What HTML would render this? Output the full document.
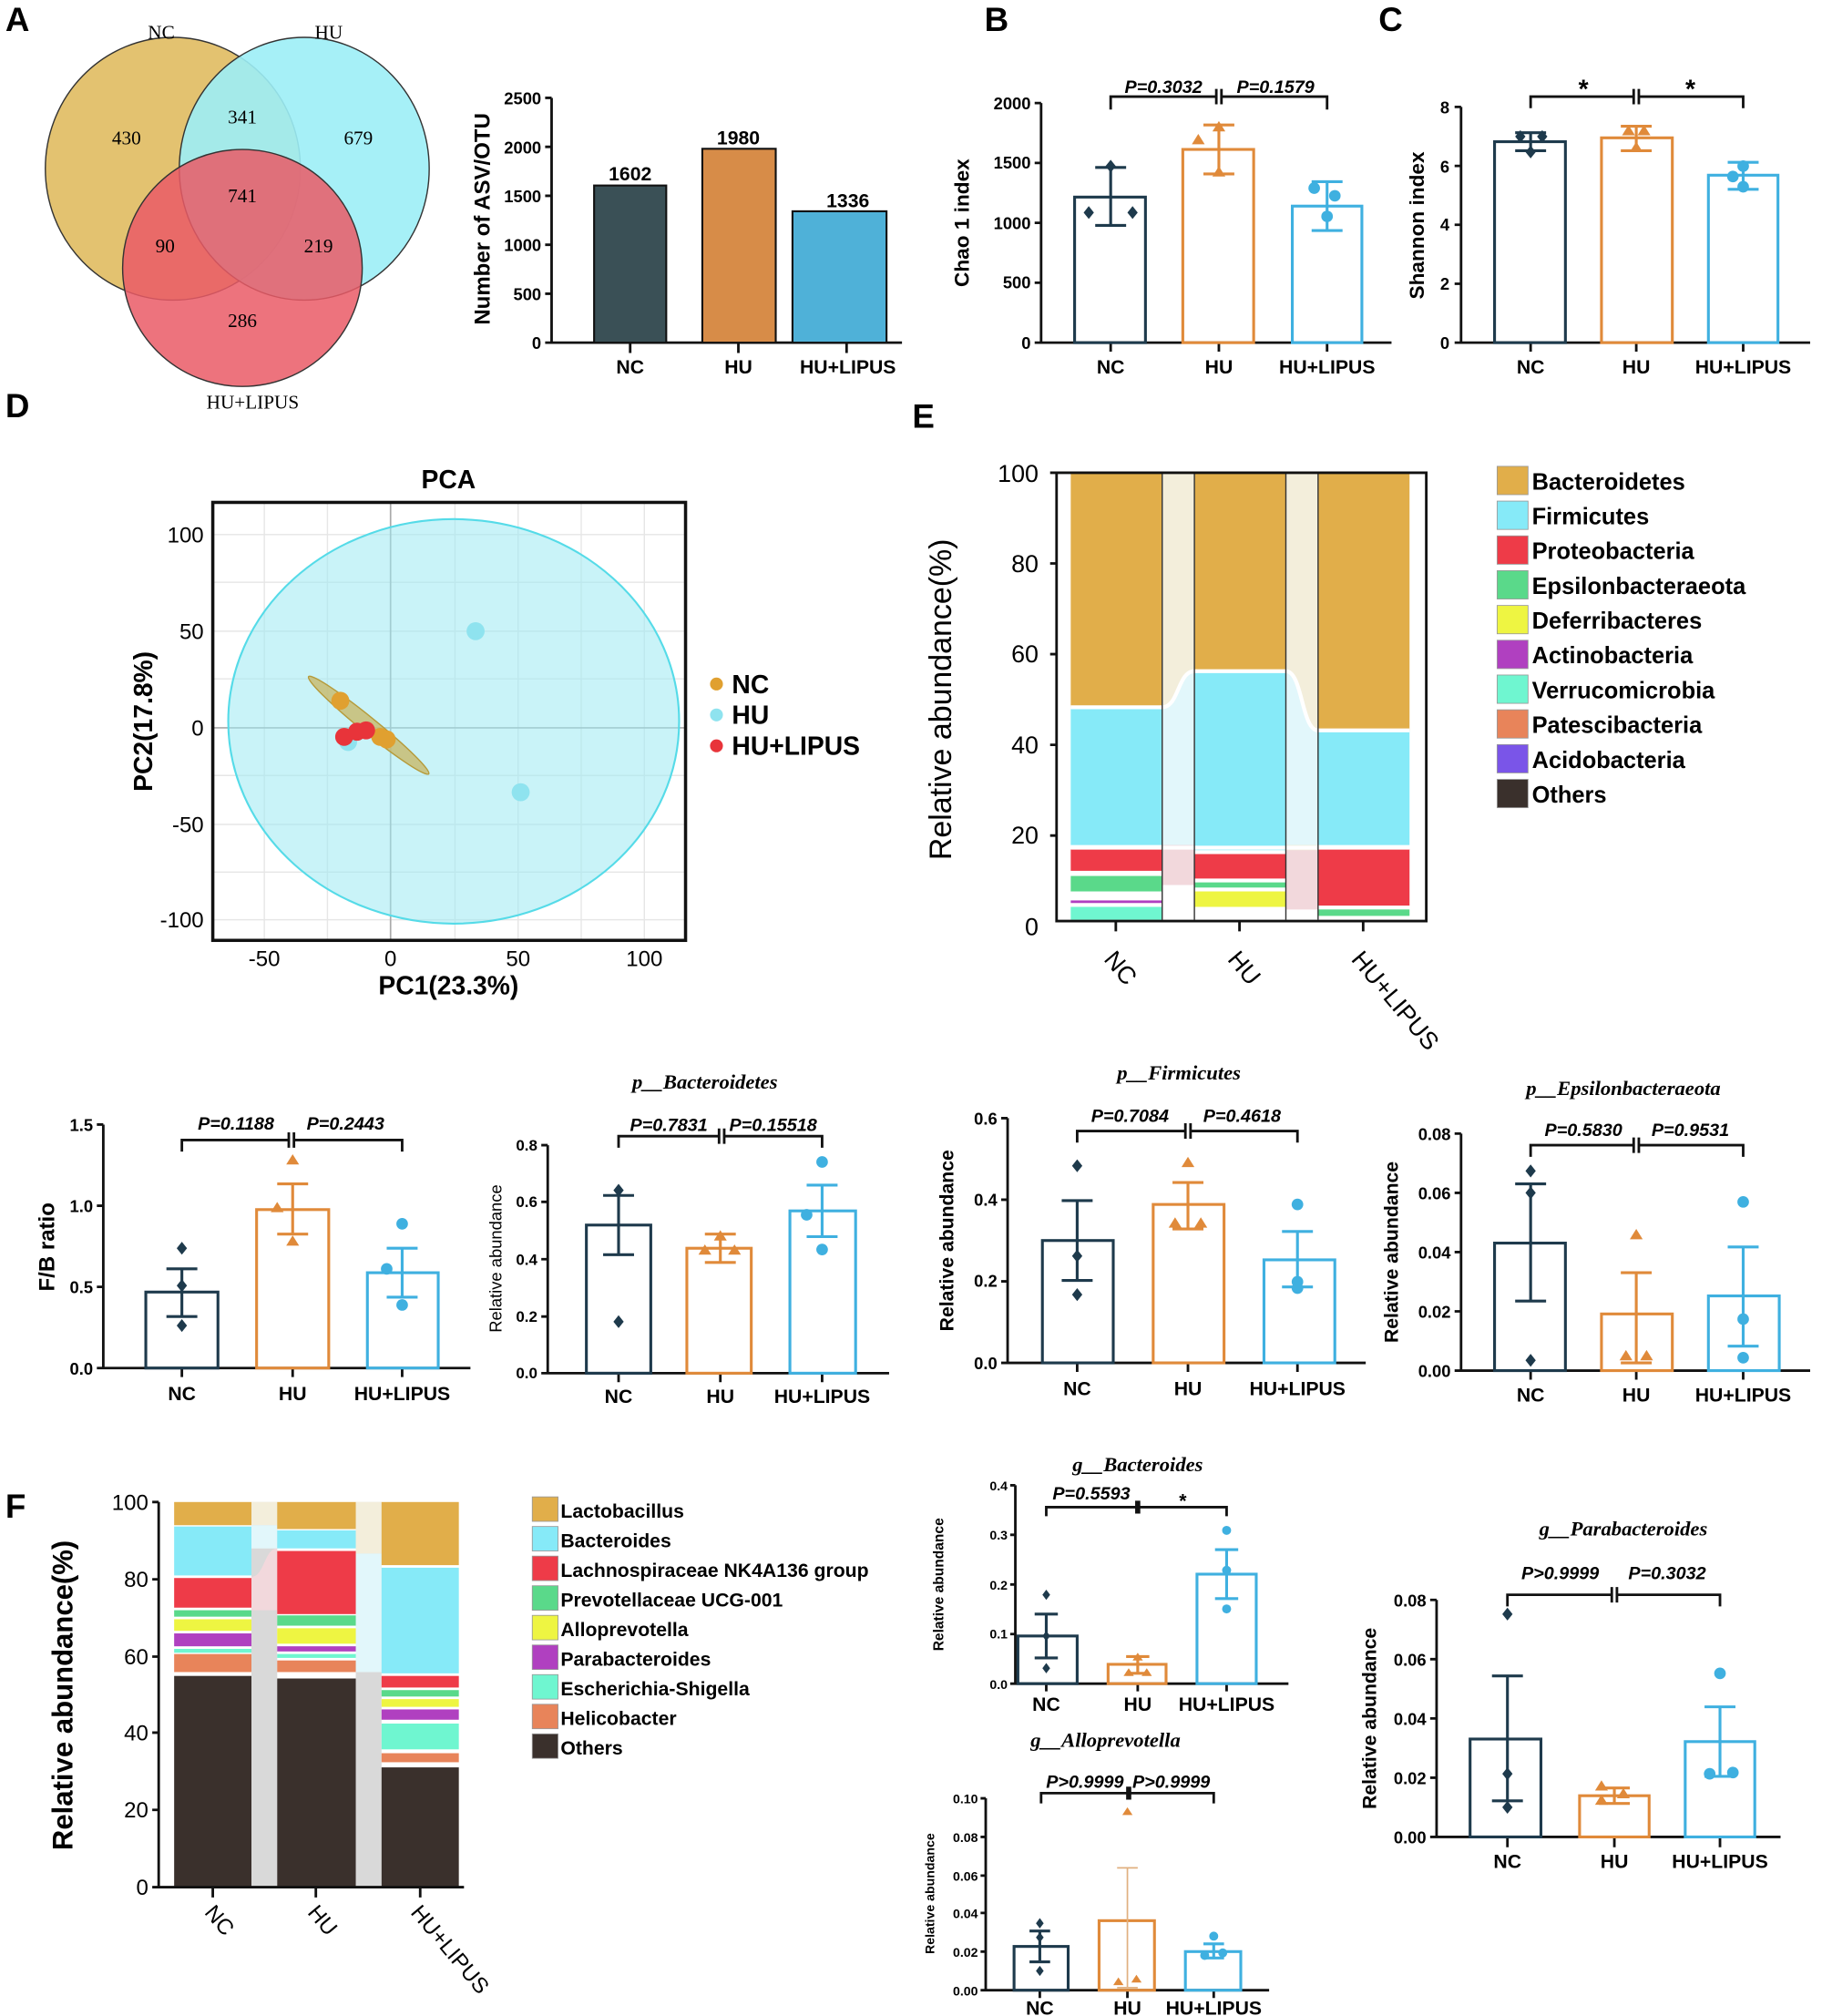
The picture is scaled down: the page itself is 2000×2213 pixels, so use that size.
<!DOCTYPE html>
<html><head><meta charset="utf-8"><style>
html,body{margin:0;padding:0;background:#fff}
svg{display:block}
text{font-family:"Liberation Sans",sans-serif}
.t{font-size:13px;font-weight:bold;text-anchor:end}
.c{font-size:15px;font-weight:bold;text-anchor:middle}
.p{font-size:14px;font-weight:bold;font-style:italic;text-anchor:middle}
.ti{font-family:"Liberation Serif",serif;font-size:16px;font-weight:bold;font-style:italic;text-anchor:middle}
.ser{font-family:"Liberation Serif",serif}
.L{font-size:26px;font-weight:bold}
.ax{stroke:#111;stroke-width:2;fill:none}
.nc{stroke:#1e3a4c;stroke-width:2.2;fill:none}
.hu{stroke:#e08a3a;stroke-width:2.2;fill:none}
.hl{stroke:#3fb0e0;stroke-width:2.2;fill:none}
.lg{font-size:18px;font-weight:bold}
</style></head><body>
<svg width="2000" height="2213" viewBox="0 0 1414 1565" xmlns="http://www.w3.org/2000/svg">
<rect width="1414" height="1565" fill="#fff"/>
<text x="4" y="24" class="L">A</text>
<text x="764" y="24" class="L">B</text>
<text x="1070" y="24" class="L">C</text>
<text x="4" y="324" class="L">D</text>
<text x="708" y="332" class="L">E</text>
<text x="4" y="1178" class="L">F</text>

<!-- Venn -->
<g stroke="#333" stroke-width="1">
<ellipse cx="134" cy="131" rx="99" ry="102" fill="#e3c270"/>
<ellipse cx="236" cy="131" rx="97" ry="102" fill="#9ceef6" fill-opacity="0.9"/>
<ellipse cx="188" cy="208" rx="93" ry="92" fill="#ea5a66" fill-opacity="0.85"/>
</g>
<g font-size="15" text-anchor="middle">
<text class="ser" x="125" y="30">NC</text><text class="ser" x="255" y="30">HU</text><text class="ser" x="196" y="317">HU+LIPUS</text>
<text class="ser" x="98" y="112">430</text><text class="ser" x="188" y="96">341</text><text class="ser" x="278" y="112">679</text>
<text class="ser" x="188" y="157">741</text><text class="ser" x="128" y="196">90</text><text class="ser" x="247" y="196">219</text><text class="ser" x="188" y="254">286</text>
</g>

<!-- A bar chart -->
<g>
<path class="ax" d="M428 76V266H700"/>
<path class="ax" d="M423 76h5M423 114h5M423 152h5M423 190h5M423 228h5M423 266h5M489 266v8M573 266v8M657 266v8"/>
<text class="t" x="420" y="81">2500</text><text class="t" x="420" y="119">2000</text><text class="t" x="420" y="157">1500</text><text class="t" x="420" y="195">1000</text><text class="t" x="420" y="233">500</text><text class="t" x="420" y="271">0</text>
<rect x="461" y="144" width="56" height="122" fill="#3a5056" stroke="#111" stroke-width="1.5"/>
<rect x="545" y="115.5" width="57" height="150.5" fill="#d78c48" stroke="#111" stroke-width="1.5"/>
<rect x="615" y="164" width="73" height="102" fill="#4fb1d8" stroke="#111" stroke-width="1.5"/>
<text class="c" x="489" y="140">1602</text><text class="c" x="573" y="112">1980</text><text class="c" x="658" y="161">1336</text>
<text class="c" x="489" y="290">NC</text><text class="c" x="573" y="290">HU</text><text class="c" x="658" y="290">HU+LIPUS</text>
<text transform="translate(380,170) rotate(-90)" font-size="17" font-weight="bold" text-anchor="middle">Number of ASV/OTU</text>
</g>

<!-- B -->
<g>
<path class="ax" d="M808 80V266H1080"/>
<path class="ax" d="M803 80h5M803 126.5h5M803 173h5M803 219.5h5M803 266h5M862 266v7M946 266v7M1030 266v7"/>
<text class="t" x="800" y="85">2000</text><text class="t" x="800" y="131">1500</text><text class="t" x="800" y="178">1000</text><text class="t" x="800" y="224">500</text><text class="t" x="800" y="271">0</text>
<rect class="nc" x="834" y="153" width="55" height="113"/><rect class="hu" x="918" y="116" width="55" height="150"/><rect class="hl" x="1003" y="160" width="54" height="106"/>
<path class="nc" d="M862 130V175M850 130h24M850 175h24"/><path class="hu" d="M946 97V135M934 97h24M934 135h24"/><path class="hl" d="M1030 141V179M1018 141h24M1018 179h24"/>
<g fill="#1e3a4c"><path d="M845 160l4 5-4 5-4-5z"/><path d="M862 124l4 5-4 5-4-5z"/><path d="M879 160l4 5-4 5-4-5z"/></g>
<g fill="#e08a3a"><path d="M946 94l5 8h-10z"/><path d="M930 104l5 8h-10z"/><path d="M946 129l5 8h-10z"/></g>
<g fill="#3fb0e0"><circle cx="1020" cy="146" r="4.5"/><circle cx="1036" cy="152" r="4.5"/><circle cx="1030" cy="168" r="4.5"/></g>
<path class="ax" d="M862 85V75H944M948 75H1030V85M944 69v12M948 69v12"/>
<text class="p" x="903" y="72">P=0.3032</text><text class="p" x="990" y="72">P=0.1579</text>
<text class="c" x="862" y="290">NC</text><text class="c" x="946" y="290">HU</text><text class="c" x="1030" y="290">HU+LIPUS</text>
<text transform="translate(752,173) rotate(-90)" font-size="16" font-weight="bold" text-anchor="middle">Chao 1  index</text>
</g>

<!-- C -->
<g>
<path class="ax" d="M1134 83V266H1405"/>
<path class="ax" d="M1129 83h5M1129 128.8h5M1129 174.5h5M1129 220.3h5M1129 266h5M1188 266v7M1270 266v7M1353 266v7"/>
<text class="t" x="1125" y="88">8</text><text class="t" x="1125" y="134">6</text><text class="t" x="1125" y="179">4</text><text class="t" x="1125" y="225">2</text><text class="t" x="1125" y="271">0</text>
<rect class="nc" x="1160" y="110" width="55" height="156"/><rect class="hu" x="1243" y="107" width="55" height="159"/><rect class="hl" x="1326" y="136" width="54" height="130"/>
<path class="nc" d="M1188 103V117M1176 103h24M1176 117h24"/><path class="hu" d="M1270 98V117M1258 98h24M1258 117h24"/><path class="hl" d="M1353 126V147M1341 126h24M1341 147h24"/>
<g fill="#1e3a4c"><path d="M1180 101l4 5-4 5-4-5z"/><path d="M1197 101l4 5-4 5-4-5z"/><path d="M1188 113l4 5-4 5-4-5z"/></g>
<g fill="#e08a3a"><path d="M1264 97l5 8h-10z"/><path d="M1276 97l5 8h-10z"/><path d="M1270 110l5 8h-10z"/></g>
<g fill="#3fb0e0"><circle cx="1353" cy="129" r="4.5"/><circle cx="1345" cy="137" r="4.5"/><circle cx="1353" cy="145" r="4.5"/></g>
<path class="ax" d="M1188 84V75H1268M1272 75H1353V84M1268 69v12M1272 69v12"/>
<text x="1229" y="76" font-size="20" font-weight="bold" text-anchor="middle">*</text><text x="1312" y="76" font-size="20" font-weight="bold" text-anchor="middle">*</text>
<text class="c" x="1188" y="290">NC</text><text class="c" x="1270" y="290">HU</text><text class="c" x="1353" y="290">HU+LIPUS</text>
<text transform="translate(1105,175) rotate(-90)" font-size="16" font-weight="bold" text-anchor="middle">Shannon  index</text>
</g>

<!-- D PCA -->
<g>
<text x="348" y="379" font-size="20" font-weight="bold" text-anchor="middle">PCA</text>
<g stroke="#e6e6e6" stroke-width="1">
<path d="M205 390V730M254 390V730M353 390V730M402 390V730M451 390V730M500 390V730"/>
<path d="M165 415H532M165 452H532M165 490H532M165 527H532M165 602H532M165 640H532M165 677H532M165 714H532"/>
</g>
<path d="M303 390V730M165 565H532" stroke="#aaa" stroke-width="1.2"/>
<ellipse cx="352" cy="560" rx="175" ry="157" fill="#9deaf2" fill-opacity="0.55" stroke="#55dbe8" stroke-width="1.5"/>
<ellipse cx="286" cy="563" rx="60" ry="6" transform="rotate(39 286 563)" fill="#c8b96a" fill-opacity="0.8" stroke="#b59a3a"/>
<g fill="#8fe3ef"><circle cx="369" cy="490" r="7"/><circle cx="404" cy="615" r="7"/><circle cx="270" cy="576" r="7"/></g>
<g fill="#e0a030"><circle cx="264" cy="544" r="7"/><circle cx="295" cy="572" r="7"/><circle cx="300" cy="574" r="7"/></g>
<g fill="#e8343a"><circle cx="267" cy="572" r="7"/><circle cx="277" cy="568" r="7"/><circle cx="284" cy="567" r="7"/></g>
<rect x="165" y="390" width="367" height="340" fill="none" stroke="#111" stroke-width="2.5"/>
<g font-size="17" text-anchor="end"><text x="158" y="421">100</text><text x="158" y="496">50</text><text x="158" y="571">0</text><text x="158" y="646">-50</text><text x="158" y="720">-100</text></g>
<g font-size="17" text-anchor="middle"><text x="205" y="750">-50</text><text x="303" y="750">0</text><text x="402" y="750">50</text><text x="500" y="750">100</text></g>
<text x="348" y="772" font-size="20" font-weight="bold" text-anchor="middle">PC1(23.3%)</text>
<text transform="translate(118,560) rotate(-90)" font-size="20" font-weight="bold" text-anchor="middle">PC2(17.8%)</text>
<circle cx="556" cy="531" r="5" fill="#e0a030"/><circle cx="556" cy="555" r="5" fill="#8fe3ef"/><circle cx="556" cy="579" r="5" fill="#e8343a"/>
<g font-size="20" font-weight="bold"><text x="568" y="538">NC</text><text x="568" y="562">HU</text><text x="568" y="586">HU+LIPUS</text></g>
</g>

<!-- E stacked -->
<g>
<rect x="902" y="367" width="25" height="348" fill="#f3eedb"/><rect x="998" y="367" width="25" height="348" fill="#f3eedb"/>
<path d="M902 549C915 549 914 521 927 521V660H902Z" fill="#e2f7fb"/>
<path d="M998 521C1011 521 1010 567 1023 567V656H998Z" fill="#e2f7fb"/>
<path d="M902 656H927V714H902Z" fill="#f2d8dc"/><path d="M998 660H1023V714H998Z" fill="#f2d8dc"/>
<path d="M902 687H927V715H902Z" fill="#fff"/><path d="M998 706H1023V715H998Z" fill="#fff"/>
<rect x="831" y="367" width="71" height="182" fill="#e1ae4a"/><rect x="831" y="549" width="71" height="107" fill="#86eaf8"/>
<rect x="831" y="659" width="71" height="17" fill="#ee3b48"/><rect x="831" y="680" width="71" height="12" fill="#5ad98a"/>
<rect x="831" y="699" width="71" height="2" fill="#b040c0"/><rect x="831" y="704" width="71" height="10" fill="#6ff6d0"/>
<rect x="927" y="367" width="71" height="154" fill="#e1ae4a"/><rect x="927" y="521" width="71" height="139" fill="#86eaf8"/>
<rect x="927" y="663" width="71" height="19" fill="#ee3b48"/><rect x="927" y="685" width="71" height="4" fill="#5ad98a"/>
<rect x="927" y="692" width="71" height="12" fill="#eef542"/>
<rect x="1023" y="367" width="71" height="200" fill="#e1ae4a"/><rect x="1023" y="567" width="71" height="89" fill="#86eaf8"/>
<rect x="1023" y="659" width="71" height="44" fill="#ee3b48"/><rect x="1023" y="706" width="71" height="5" fill="#5ad98a"/>
<g stroke="#fff" stroke-width="3" fill="none"><path d="M831 549H902C915 549 914 521 927 521H998C1011 521 1010 567 1023 567H1094"/><path d="M831 658H1094"/></g>
<g stroke="#333" stroke-width="1"><path d="M902 367V714M927 367V714M998 367V714M1023 367V714"/></g>
<path class="ax" d="M820 367V715H1107V367H820M815 367h5M815 437.4h5M815 507.8h5M815 578.2h5M815 648.6h5M866 715v8M962 715v8M1058 715v8"/>
<g font-size="19" text-anchor="end"><text x="806" y="374">100</text><text x="806" y="444">80</text><text x="806" y="514">60</text><text x="806" y="585">40</text><text x="806" y="655">20</text><text x="806" y="726">0</text></g>
<g font-size="19"><text transform="translate(856,745) rotate(50)">NC</text><text transform="translate(952,745) rotate(50)">HU</text><text transform="translate(1048,745) rotate(50)">HU+LIPUS</text></g>
<text transform="translate(738,543) rotate(-90)" font-size="24" text-anchor="middle">Relative abundance(%)</text>
<g stroke="#999" stroke-width="0.6">
<rect x="1162" y="362" width="24" height="22" fill="#e1ae4a"/><rect x="1162" y="389" width="24" height="22" fill="#86eaf8"/><rect x="1162" y="416" width="24" height="22" fill="#ee3b48"/><rect x="1162" y="443" width="24" height="22" fill="#5ad98a"/><rect x="1162" y="470" width="24" height="22" fill="#eef542"/><rect x="1162" y="497" width="24" height="22" fill="#b040c0"/><rect x="1162" y="524" width="24" height="22" fill="#6ff6d0"/><rect x="1162" y="551" width="24" height="22" fill="#e8845a"/><rect x="1162" y="578" width="24" height="22" fill="#7a55e8"/><rect x="1162" y="605" width="24" height="22" fill="#3a302c"/>
</g>
<g class="lg"><text x="1189" y="380">Bacteroidetes</text><text x="1189" y="407">Firmicutes</text><text x="1189" y="434">Proteobacteria</text><text x="1189" y="461">Epsilonbacteraeota</text><text x="1189" y="488">Deferribacteres</text><text x="1189" y="515">Actinobacteria</text><text x="1189" y="542">Verrucomicrobia</text><text x="1189" y="569">Patescibacteria</text><text x="1189" y="596">Acidobacteria</text><text x="1189" y="623">Others</text></g>
</g>

<!-- F/B -->
<g>
<path class="ax" d="M80 873V1062H365M75 873h5M75 936h5M75 999h5M75 1062h5M141 1062v7M227 1062v7M312 1062v7"/>
<text class="t" x="72" y="878">1.5</text><text class="t" x="72" y="941">1.0</text><text class="t" x="72" y="1004">0.5</text><text class="t" x="72" y="1067">0.0</text>
<rect class="nc" x="113" y="1003" width="56" height="59"/><rect class="hu" x="199" y="939" width="56" height="123"/><rect class="hl" x="285" y="988" width="55" height="74"/>
<path class="nc" d="M141 985V1022M129 985h24M129 1022h24"/><path class="hu" d="M227 919V958M215 919h24M215 958h24"/><path class="hl" d="M312 969V1007M300 969h24M300 1007h24"/>
<g fill="#1e3a4c"><path d="M141 964l4 5-4 5-4-5z"/><path d="M141 993l4 5-4 5-4-5z"/><path d="M141 1024l4 5-4 5-4-5z"/></g>
<g fill="#e08a3a"><path d="M227 896l5 8h-10z"/><path d="M215 933l5 8h-10z"/><path d="M227 959l5 8h-10z"/></g>
<g fill="#3fb0e0"><circle cx="312" cy="950" r="4.5"/><circle cx="300" cy="985" r="4.5"/><circle cx="312" cy="1013" r="4.5"/></g>
<path class="ax" d="M141 894V885H224M228 885H312V894M224 879v12M228 879v12"/>
<text class="p" x="183" y="877">P=0.1188</text><text class="p" x="268" y="877">P=0.2443</text>
<text class="c" x="141" y="1087">NC</text><text class="c" x="227" y="1087">HU</text><text class="c" x="312" y="1087">HU+LIPUS</text>
<text transform="translate(42,968) rotate(-90)" font-size="17" font-weight="bold" text-anchor="middle">F/B ratio</text>
</g>

<!-- p_Bacteroidetes -->
<g>
<text class="ti" x="547" y="845">p__Bacteroidetes</text>
<path class="ax" d="M425 889V1066H690M420 889h5M420 933h5M420 977.5h5M420 1022h5M420 1066h5M480 1066v7M559 1066v7M638 1066v7"/>
<g font-size="12" font-weight="bold" text-anchor="end"><text x="417" y="893">0.8</text><text x="417" y="937">0.6</text><text x="417" y="982">0.4</text><text x="417" y="1026">0.2</text><text x="417" y="1070">0.0</text></g>
<rect class="nc" x="455" y="951" width="50" height="115"/><rect class="hu" x="533" y="969" width="50" height="97"/><rect class="hl" x="613" y="940" width="51" height="126"/>
<path class="nc" d="M480 928V974M468 928h24M468 974h24"/><path class="hu" d="M559 958V980M547 958h24M547 980h24"/><path class="hl" d="M638 920V960M626 920h24M626 960h24"/>
<g fill="#1e3a4c"><path d="M480 919l4 5-4 5-4-5z"/><path d="M480 1021l4 5-4 5-4-5z"/></g>
<g fill="#e08a3a"><path d="M559 955l5 8h-10z"/><path d="M547 966l5 8h-10z"/><path d="M570 966l5 8h-10z"/></g>
<g fill="#3fb0e0"><circle cx="638" cy="902" r="4.5"/><circle cx="626" cy="943" r="4.5"/><circle cx="638" cy="970" r="4.5"/></g>
<path class="ax" d="M480 891V882H558M562 882H638V891M558 876v12M562 876v12"/>
<text class="p" x="519" y="878" font-size="13">P=0.7831</text><text class="p" x="600" y="878" font-size="13">P=0.15518</text>
<text class="c" x="480" y="1089" font-size="13">NC</text><text class="c" x="559" y="1089" font-size="13">HU</text><text class="c" x="638" y="1089" font-size="13">HU+LIPUS</text>
<text transform="translate(389,977) rotate(-90)" font-size="13" text-anchor="middle">Relative abundance</text>
</g>

<!-- p_Firmicutes -->
<g>
<text class="ti" x="915" y="838">p__Firmicutes</text>
<path class="ax" d="M782 868V1058H1060M777 868h5M777 931.3h5M777 994.7h5M777 1058h5M836 1058v7M922 1058v7M1007 1058v7"/>
<text class="t" x="774" y="873">0.6</text><text class="t" x="774" y="936">0.4</text><text class="t" x="774" y="999">0.2</text><text class="t" x="774" y="1063">0.0</text>
<rect class="nc" x="809" y="963" width="55" height="95"/><rect class="hu" x="895" y="935" width="55" height="123"/><rect class="hl" x="981" y="978" width="55" height="80"/>
<path class="nc" d="M836 932V994M824 932h24M824 994h24"/><path class="hu" d="M922 918V954M910 918h24M910 954h24"/><path class="hl" d="M1007 956V999M995 956h24M995 999h24"/>
<g fill="#1e3a4c"><path d="M836 900l4 5-4 5-4-5z"/><path d="M836 970l4 5-4 5-4-5z"/><path d="M836 1000l4 5-4 5-4-5z"/></g>
<g fill="#e08a3a"><path d="M922 898l5 8h-10z"/><path d="M912 945l5 8h-10z"/><path d="M932 945l5 8h-10z"/></g>
<g fill="#3fb0e0"><circle cx="1007" cy="935" r="4.5"/><circle cx="1007" cy="995" r="4.5"/><circle cx="1007" cy="1000" r="4.5"/></g>
<path class="ax" d="M836 887V878H920M924 878H1007V887M920 872v12M924 872v12"/>
<text class="p" x="877" y="871">P=0.7084</text><text class="p" x="964" y="871">P=0.4618</text>
<text class="c" x="836" y="1083">NC</text><text class="c" x="922" y="1083">HU</text><text class="c" x="1007" y="1083">HU+LIPUS</text>
<text transform="translate(740,963) rotate(-90)" font-size="15" font-weight="bold" text-anchor="middle">Relative abundance</text>
</g>

<!-- p_Epsilon -->
<g>
<text class="ti" x="1260" y="850">p__Epsilonbacteraeota</text>
<path class="ax" d="M1134 880V1064H1405M1129 880h5M1129 926h5M1129 972h5M1129 1018h5M1129 1064h5M1188 1064v7M1270 1064v7M1353 1064v7"/>
<text class="t" x="1126" y="885">0.08</text><text class="t" x="1126" y="931">0.06</text><text class="t" x="1126" y="977">0.04</text><text class="t" x="1126" y="1023">0.02</text><text class="t" x="1126" y="1069">0.00</text>
<rect class="nc" x="1160" y="965" width="55" height="99"/><rect class="hu" x="1243" y="1020" width="55" height="44"/><rect class="hl" x="1326" y="1006" width="55" height="58"/>
<path class="nc" d="M1188 919V1010M1176 919h24M1176 1010h24"/><path class="hu" d="M1270 988V1058M1258 988h24M1258 1058h24"/><path class="hl" d="M1353 968V1045M1341 968h24M1341 1045h24"/>
<g fill="#1e3a4c"><path d="M1188 904l4 5-4 5-4-5z"/><path d="M1188 921l4 5-4 5-4-5z"/><path d="M1188 1051l4 5-4 5-4-5z"/></g>
<g fill="#e08a3a"><path d="M1270 954l5 8h-10z"/><path d="M1262 1048l5 8h-10z"/><path d="M1278 1048l5 8h-10z"/></g>
<g fill="#3fb0e0"><circle cx="1353" cy="933" r="4.5"/><circle cx="1353" cy="1024" r="4.5"/><circle cx="1353" cy="1054" r="4.5"/></g>
<path class="ax" d="M1188 898V889H1268M1272 889H1353V898M1268 883v12M1272 883v12"/>
<text class="p" x="1229" y="882">P=0.5830</text><text class="p" x="1312" y="882">P=0.9531</text>
<text class="c" x="1188" y="1088">NC</text><text class="c" x="1270" y="1088">HU</text><text class="c" x="1353" y="1088">HU+LIPUS</text>
<text transform="translate(1085,972) rotate(-90)" font-size="15" font-weight="bold" text-anchor="middle">Relative abundance</text>
</g>

<!-- F stacked -->
<g>
<rect x="195" y="1166" width="20" height="299" fill="#d9d9d9"/><rect x="276" y="1166" width="20" height="299" fill="#d9d9d9"/>
<rect x="195" y="1166" width="20" height="18" fill="#f3eedb"/><rect x="276" y="1166" width="20" height="40" fill="#f3eedb"/>
<path d="M195 1184H215V1202H195Z" fill="#e2f7fb"/><path d="M276 1206H296V1298H276Z" fill="#e2f7fb"/>
<path d="M195 1224C205 1224 205 1202 215 1202V1250H195Z" fill="#f2d8dc"/>
<rect x="135" y="1166" width="60" height="18" fill="#e1ae4a"/><rect x="135" y="1185" width="60" height="38" fill="#86eaf8"/><rect x="135" y="1225" width="60" height="23" fill="#ee3b48"/><rect x="135" y="1250" width="60" height="5" fill="#5ad98a"/><rect x="135" y="1257" width="60" height="9" fill="#eef542"/><rect x="135" y="1268" width="60" height="10" fill="#b040c0"/><rect x="135" y="1280" width="60" height="3" fill="#6ff6d0"/><rect x="135" y="1284" width="60" height="14" fill="#e8845a"/><rect x="135" y="1301" width="60" height="164" fill="#3a302c"/>
<rect x="215" y="1166" width="61" height="21" fill="#e1ae4a"/><rect x="215" y="1188" width="61" height="14" fill="#86eaf8"/><rect x="215" y="1204" width="61" height="49" fill="#ee3b48"/><rect x="215" y="1254" width="61" height="8" fill="#5ad98a"/><rect x="215" y="1264" width="61" height="12" fill="#eef542"/><rect x="215" y="1278" width="61" height="4" fill="#b040c0"/><rect x="215" y="1284" width="61" height="3" fill="#6ff6d0"/><rect x="215" y="1289" width="61" height="9" fill="#e8845a"/><rect x="215" y="1303" width="61" height="162" fill="#3a302c"/>
<rect x="296" y="1166" width="60" height="49" fill="#e1ae4a"/><rect x="296" y="1217" width="60" height="82" fill="#86eaf8"/><rect x="296" y="1301" width="60" height="9" fill="#ee3b48"/><rect x="296" y="1312" width="60" height="5" fill="#5ad98a"/><rect x="296" y="1319" width="60" height="6" fill="#eef542"/><rect x="296" y="1327" width="60" height="8" fill="#b040c0"/><rect x="296" y="1338" width="60" height="20" fill="#6ff6d0"/><rect x="296" y="1361" width="60" height="7" fill="#e8845a"/><rect x="296" y="1372" width="60" height="93" fill="#3a302c"/>
<path class="ax" d="M123 1166V1465H360M118 1166h5M118 1226h5M118 1286h5M118 1345h5M118 1405h5M118 1465h5M165 1465v8M245 1465v8M326 1465v8"/>
<g font-size="17" text-anchor="end"><text x="115" y="1172">100</text><text x="115" y="1232">80</text><text x="115" y="1292">60</text><text x="115" y="1351">40</text><text x="115" y="1411">20</text><text x="115" y="1471">0</text></g>
<g font-size="17"><text transform="translate(158,1485) rotate(50)">NC</text><text transform="translate(238,1485) rotate(50)">HU</text><text transform="translate(318,1485) rotate(50)">HU+LIPUS</text></g>
<text transform="translate(56,1316) rotate(-90)" font-size="22" font-weight="bold" text-anchor="middle">Relative abundance(%)</text>
<g stroke="#999" stroke-width="0.6">
<rect x="413" y="1162" width="20" height="19" fill="#e1ae4a"/><rect x="413" y="1185" width="20" height="19" fill="#86eaf8"/><rect x="413" y="1208" width="20" height="19" fill="#ee3b48"/><rect x="413" y="1231" width="20" height="19" fill="#5ad98a"/><rect x="413" y="1254" width="20" height="19" fill="#eef542"/><rect x="413" y="1277" width="20" height="19" fill="#b040c0"/><rect x="413" y="1300" width="20" height="19" fill="#6ff6d0"/><rect x="413" y="1323" width="20" height="19" fill="#e8845a"/><rect x="413" y="1346" width="20" height="19" fill="#3a302c"/>
</g>
<g font-size="15" font-weight="bold"><text x="435" y="1178">Lactobacillus</text><text x="435" y="1201">Bacteroides</text><text x="435" y="1224">Lachnospiraceae NK4A136 group</text><text x="435" y="1247">Prevotellaceae UCG-001</text><text x="435" y="1270">Alloprevotella</text><text x="435" y="1293">Parabacteroides</text><text x="435" y="1316">Escherichia-Shigella</text><text x="435" y="1339">Helicobacter</text><text x="435" y="1362">Others</text></g>
</g>

<!-- g_Bacteroides -->
<g>
<text class="ti" x="883" y="1142" font-size="13">g__Bacteroides</text>
<path class="ax" d="M788 1153V1307H1000M784 1153h4M784 1191.5h4M784 1230h4M784 1268.5h4M784 1307h4M812 1307v6M883 1307v6M952 1307v6" stroke-width="1.5"/>
<g font-size="10" font-weight="bold" text-anchor="end"><text x="782" y="1157">0.4</text><text x="782" y="1195">0.3</text><text x="782" y="1234">0.2</text><text x="782" y="1272">0.1</text><text x="782" y="1311">0.0</text></g>
<rect class="nc" x="790" y="1270" width="46" height="37" stroke-width="1.6"/><rect class="hu" x="860" y="1292" width="45" height="15" stroke-width="1.6"/><rect class="hl" x="929" y="1222" width="46" height="85" stroke-width="1.6"/>
<path class="nc" d="M812 1253V1287M803 1253h18M803 1287h18" stroke-width="1.4"/><path class="hu" d="M883 1286V1299M874 1286h18M874 1299h18" stroke-width="1.4"/><path class="hl" d="M952 1203V1241M943 1203h18M943 1241h18" stroke-width="1.4"/>
<g fill="#1e3a4c"><path d="M812 1234l3 4-3 4-3-4z"/><path d="M812 1266l3 4-3 4-3-4z"/><path d="M812 1291l3 4-3 4-3-4z"/></g>
<g fill="#e08a3a"><path d="M883 1283l4 6h-8z"/><path d="M876 1295l4 6h-8z"/><path d="M890 1295l4 6h-8z"/></g>
<g fill="#3fb0e0"><circle cx="952" cy="1188" r="3.5"/><circle cx="952" cy="1219" r="3.5"/><circle cx="952" cy="1249" r="3.5"/></g>
<path class="ax" d="M812 1177V1170H882M884 1170H952V1177M882 1165v10M884 1165v10" stroke-width="1.5"/>
<text class="p" x="847" y="1164" font-size="11">P=0.5593</text><text x="918" y="1170" font-size="15" font-weight="bold" text-anchor="middle">*</text>
<text class="c" x="812" y="1328" font-size="12">NC</text><text class="c" x="883" y="1328" font-size="12">HU</text><text class="c" x="952" y="1328" font-size="12">HU+LIPUS</text>
<text transform="translate(732,1230) rotate(-90)" font-size="11" font-weight="bold" text-anchor="middle">Relative abundance</text>
</g>

<!-- g_Alloprevotella -->
<g>
<text class="ti" x="858" y="1356" font-size="13">g__Alloprevotella</text>
<path class="ax" d="M765 1396V1545H985M761 1396h4M761 1426h4M761 1456h4M761 1485h4M761 1515h4M761 1545h4M807 1545v6M875 1545v6M942 1545v6" stroke-width="1.5"/>
<g font-size="10" font-weight="bold" text-anchor="end"><text x="759" y="1400">0.10</text><text x="759" y="1430">0.08</text><text x="759" y="1460">0.06</text><text x="759" y="1489">0.04</text><text x="759" y="1519">0.02</text><text x="759" y="1549">0.00</text></g>
<rect class="nc" x="787" y="1511" width="42" height="34" stroke-width="1.6"/><rect class="hu" x="853" y="1491" width="43" height="54" stroke-width="1.6"/><rect class="hl" x="920" y="1515" width="43" height="30" stroke-width="1.6"/>
<path class="nc" d="M807 1499V1523M799 1499h16M799 1523h16" stroke-width="1.4"/><path d="M875 1450V1543M867 1450h16M867 1543h16" stroke="#e0b080" stroke-width="1.2"/><path class="hl" d="M942 1509V1520M934 1509h16M934 1520h16" stroke-width="1.4"/>
<g fill="#1e3a4c"><path d="M807 1489l3 4-3 4-3-4z"/><path d="M807 1500l3 4-3 4-3-4z"/><path d="M807 1526l3 4-3 4-3-4z"/></g>
<g fill="#e08a3a"><path d="M875 1403l4 6h-8z"/><path d="M868 1535l4 6h-8z"/><path d="M882 1533l4 6h-8z"/></g>
<g fill="#3fb0e0"><circle cx="942" cy="1503" r="3.5"/><circle cx="935" cy="1518" r="3.5"/><circle cx="949" cy="1516" r="3.5"/></g>
<path class="ax" d="M808 1400V1392H875M877 1392H942V1400M875 1387v10M877 1387v10" stroke-width="1.5"/>
<text class="p" x="842" y="1388" font-size="11">P&gt;0.9999</text><text class="p" x="909" y="1388" font-size="11">P&gt;0.9999</text>
<text class="c" x="807" y="1564" font-size="12">NC</text><text class="c" x="875" y="1564" font-size="12">HU</text><text class="c" x="942" y="1564" font-size="12">HU+LIPUS</text>
<text transform="translate(725,1470) rotate(-90)" font-size="10" font-weight="bold" text-anchor="middle">Relative abundance</text>
</g>

<!-- g_Parabacteroides -->
<g>
<text class="ti" x="1260" y="1192" font-size="17">g__Parabacteroides</text>
<path class="ax" d="M1115 1242V1426H1382M1110 1242h5M1110 1288h5M1110 1334h5M1110 1380h5M1110 1426h5M1170 1426v8M1253 1426v8M1335 1426v8"/>
<text class="t" x="1107" y="1247">0.08</text><text class="t" x="1107" y="1293">0.06</text><text class="t" x="1107" y="1339">0.04</text><text class="t" x="1107" y="1385">0.02</text><text class="t" x="1107" y="1431">0.00</text>
<rect class="nc" x="1141" y="1350" width="55" height="76"/><rect class="hu" x="1226" y="1394" width="54" height="32"/><rect class="hl" x="1308" y="1352" width="54" height="74"/>
<path class="nc" d="M1170 1301V1398M1158 1301h24M1158 1398h24"/><path class="hu" d="M1253 1388V1400M1241 1388h24M1241 1400h24"/><path class="hl" d="M1335 1325V1379M1323 1325h24M1323 1379h24"/>
<g fill="#1e3a4c"><path d="M1170 1248l4 5-4 5-4-5z"/><path d="M1170 1372l4 5-4 5-4-5z"/><path d="M1170 1398l4 5-4 5-4-5z"/></g>
<g fill="#e08a3a"><path d="M1243 1382l5 8h-10z"/><path d="M1260 1388l5 8h-10z"/><path d="M1243 1393l5 8h-10z"/></g>
<g fill="#3fb0e0"><circle cx="1335" cy="1299" r="4.5"/><circle cx="1327" cy="1377" r="4.5"/><circle cx="1345" cy="1376" r="4.5"/></g>
<path class="ax" d="M1170 1247V1238H1251M1255 1238H1335V1247M1251 1232v12M1255 1232v12"/>
<text class="p" x="1211" y="1226">P&gt;0.9999</text><text class="p" x="1294" y="1226">P=0.3032</text>
<text class="c" x="1170" y="1450">NC</text><text class="c" x="1253" y="1450">HU</text><text class="c" x="1335" y="1450">HU+LIPUS</text>
<text transform="translate(1068,1334) rotate(-90)" font-size="15" font-weight="bold" text-anchor="middle">Relative abundance</text>
</g>
</svg>
</body></html>
